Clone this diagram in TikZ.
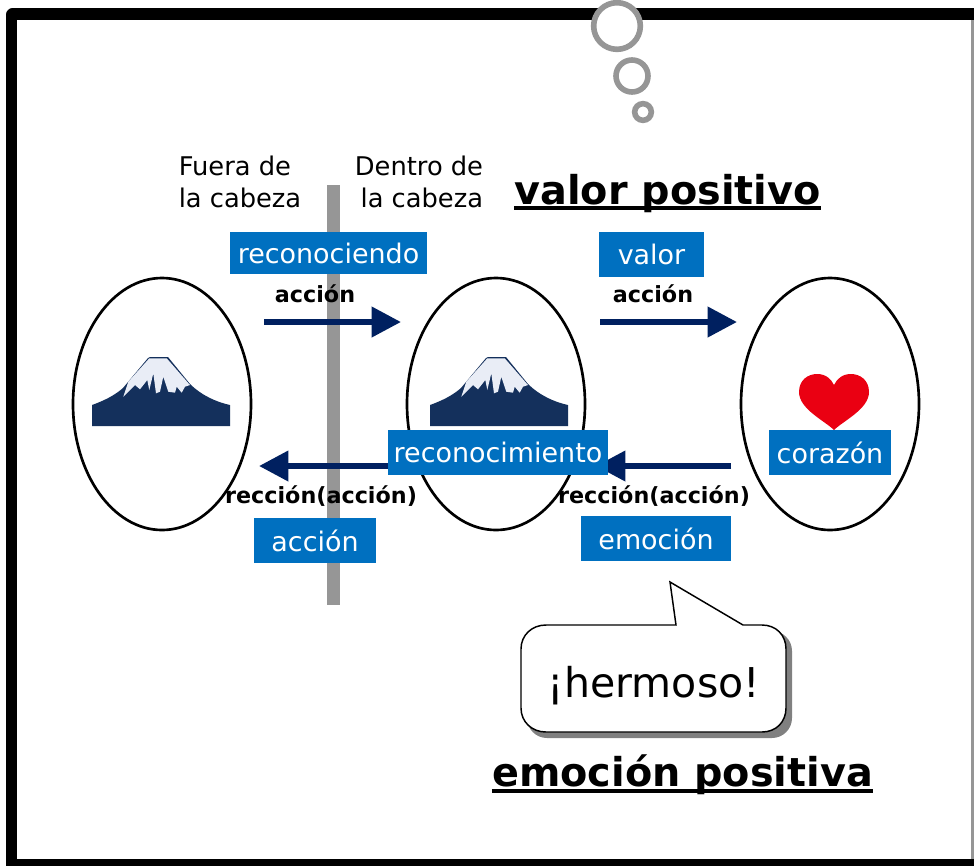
\documentclass[tikz,border=0pt]{standalone}
\usepackage{fontspec}
\setmainfont{DejaVu Sans}
\usetikzlibrary{arrows.meta}
\definecolor{bluebox}{HTML}{0070C0}
\definecolor{navy}{HTML}{002060}
\definecolor{fuji}{HTML}{14305C}
\definecolor{snow}{HTML}{E9EDF6}
\definecolor{heart}{HTML}{EA0012}
\definecolor{graybar}{HTML}{969696}
\tikzset{x=0.75pt,y=-0.75pt,
 oval/.style={line width=2pt,fill=white},
 lbl/.style={fill=bluebox,text=white,font=\fontsize{20.2}{24}\selectfont,inner sep=0pt,anchor=center},
 sm/.style={font=\fontsize{16.7}{20}\selectfont\bfseries,inner sep=0pt},
 headl/.style={font=\fontsize{19.3}{24}\selectfont,inner sep=0pt},
 big/.style={font=\fontsize{29.8}{36}\selectfont\bfseries,inner sep=0pt,anchor=base},
 uline/.style={line width=2.6pt,black},
 arr/.style={draw=navy,line width=4.5pt,-{Triangle[length=22pt,width=22pt]}},
 bubble/.style={draw=graybar,line width=4.2pt,fill=white,circle,inner sep=0pt}}
\newcommand{\lift}[1]{\raisebox{-2.2pt}{#1}}
\newcommand{\fujipic}[1]{%
 \begin{scope}[shift={(#1,0)}]
 \fill[fuji] (-69,426) -- (-69,405) .. controls (-58,401) and (-47,396) .. (-38,388) -- (-13,358) -- (-11,357) -- (7,357) -- (29,384) .. controls (40,395) and (55,402) .. (69,405) -- (69,426) -- cycle;
 \fill[snow] (-11.7,358.3) -- (-32.7,381.7) -- (-37.7,396.7) -- (-26,385) -- (-21,389.3) -- (-13.7,380) -- (-11.7,390) -- (-7.7,373.3) -- (-5,393.3) -- (-1,391.7) -- (2.3,376.7) -- (7.3,391.7) -- (14,392.7) -- (15.7,386.7) -- (20.7,392.7) -- (24,386.7) -- (29,385) -- (5.7,358.3) -- cycle;
 \end{scope}}
\begin{document}
\begin{tikzpicture}
\useasboundingbox (0,0) rectangle (974,865);
\fill[white] (0,0) rectangle (974,865);
% frame
\begin{scope}
\clip (0,0) rectangle (974,865);
\fill[black,rounded corners=5pt] (6,8) rectangle (1000,900);
\fill[white] (17,20) rectangle (971,859);
\fill[graybar] (971,20) rectangle (974,859);
\end{scope}
% thought bubbles
\node[bubble,minimum size=35pt] (t1) at (617,26) {};
\node[bubble,minimum size=24pt] (t2) at (632,76) {};
\node[bubble,minimum size=12.5pt] (t3) at (643,112) {};
% ellipses
\draw[oval] (162,404) ellipse (89 and 126);
\draw[oval] (496,404) ellipse (89 and 126);
\draw[oval] (830,404) ellipse (89 and 126);
% bar
\fill[graybar] (327,185) rectangle (340,605);
% mountains
\fujipic{161}
\fujipic{499}
% heart
\fill[heart] (834,430) .. controls (825,421) and (799,409) .. (799,392) .. controls (799,380) and (808,374) .. (817,374) .. controls (826,374) and (831,379) .. (834,385) .. controls (837,379) and (842,374) .. (851,374) .. controls (860,374) and (869,380) .. (869,392) .. controls (869,409) and (843,421) .. (834,430) -- cycle;
% arrows
\coordinate (a1s) at (264,322); \coordinate (a1e) at (401,322);
\coordinate (a2s) at (600,322); \coordinate (a2e) at (737,322);
\coordinate (a3s) at (731,466); \coordinate (a3e) at (596,466);
\coordinate (a4s) at (390,466); \coordinate (a4e) at (259,466);
\draw[arr] (a1s) -- (a1e);
\draw[arr] (a2s) -- (a2e);
\draw[arr] (a3s) -- (a3e);
\draw[arr] (a4s) -- (a4e);
% boxes
\node[lbl,minimum width=147.75pt,minimum height=31.5pt] (b1) at (328.5,253) {\lift{reconociendo}};
\node[lbl,minimum width=78.75pt,minimum height=33.75pt] (b2) at (651.5,254.5) {\lift{valor}};
\node[lbl,minimum width=165pt,minimum height=33.75pt] (b3) at (498,452.5) {\lift{reconocimiento}};
\node[lbl,minimum width=91.5pt,minimum height=33.75pt] (b4) at (830,452.5) {\lift{corazón}};
\node[lbl,minimum width=91.5pt,minimum height=33.75pt] (b5) at (315,540.5) {\lift{acción}};
\node[lbl,minimum width=112.5pt,minimum height=33.75pt] (b6) at (656,538.5) {\lift{emoción}};
% small labels
\node[sm] (s1) at (315,294) {acción};
\node[sm] (s2) at (653,294) {acción};
\node[sm] (s3) at (321,496) {rección(acción)};
\node[sm] (s4) at (654,496) {rección(acción)};
% headings
\node[headl,align=left] (h1) at (240,182) {Fuera de\\la cabeza};
\node[headl,align=right] (h2) at (419,182) {Dentro de\\la cabeza};
% titles
\node[big] (v) at (667.5,204) {valor positivo};
\node[big] (e) at (682.5,786) {emoción positiva};
\coordinate (vu) at (0,208);
\coordinate (eu) at (0,791);
\draw[uline] (v.west |- vu) -- (v.east |- vu);
\draw[uline] (e.west |- eu) -- (e.east |- eu);
% speech bubble
\fill[graybar!85!black,rounded corners=15pt] (527,631) rectangle (792,738);
\draw[black,line width=1.1pt,fill=white] (546,625) -- (676,625) -- (670,582) -- (743,625) -- (762,625) .. controls (776,625) and (786,635) .. (786,649) -- (786,708) .. controls (786,722) and (776,732) .. (762,732) -- (546,732) .. controls (532,732) and (521,722) .. (521,708) -- (521,649) .. controls (521,635) and (532,625) .. (546,625) -- cycle;
\node[font=\fontsize{30.8}{36}\selectfont,inner sep=0pt] (hm) at (654,686) {¡hermoso!};
\end{tikzpicture}
\end{document}
